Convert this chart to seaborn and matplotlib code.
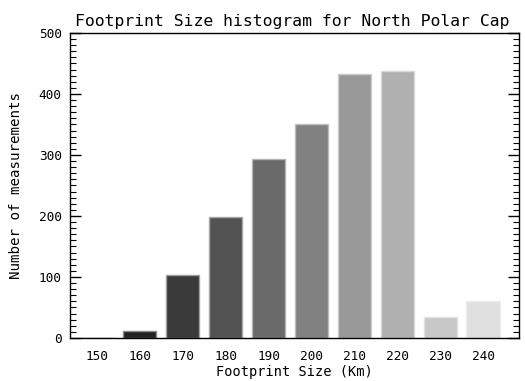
import matplotlib
matplotlib.use("Agg")
import matplotlib.pyplot as plt
from matplotlib.ticker import MultipleLocator
import seaborn as sns
import pandas as pd

# Histogram of footprint sizes over the North Polar Cap
sizes = [150, 160, 170, 180, 190, 200, 210, 220, 230, 240]
counts = [0, 12, 103, 199, 293, 350, 432, 437, 34, 60]
bar_colors = ["#141414", "#222222", "#3a3a3a", "#535353", "#6a6a6a",
              "#818181", "#999999", "#b0b0b0", "#c8c8c8", "#e0e0e0"]
edge_colors = ["#8a8a8a", "#8a8a8a", "#a0a0a0", "#a8a8a8", "#b4b4b4",
               "#c0c0c0", "#cccccc", "#d8d8d8", "#e2e2e2", "#ececec"]

df = pd.DataFrame({"size": sizes, "count": counts})

sns.set_style("white")
plt.rcParams["font.family"] = ["DejaVu Sans Mono"]
plt.rcParams["text.color"] = "black"
plt.rcParams["axes.labelcolor"] = "black"
plt.rcParams["xtick.color"] = "black"
plt.rcParams["ytick.color"] = "black"

fig = plt.figure(figsize=(5.25, 3.81), dpi=100)
ax = fig.add_axes([0.1333, 0.1129, 0.8553, 0.8005])

sns.barplot(data=df, x="size", y="count", hue="size", palette=bar_colors,
            native_scale=True, width=0.77, legend=False, ax=ax,
            linewidth=1.0, saturation=1)

for patch, ec in zip(ax.patches, edge_colors):
    patch.set_edgecolor(ec)

ax.set_xlim(143.7, 248.4)
ax.set_ylim(0, 500)
ax.set_xticks(sizes)
ax.set_xticklabels([str(s) for s in sizes])
ax.yaxis.set_major_locator(MultipleLocator(100))
ax.yaxis.set_minor_locator(MultipleLocator(10))

ax.tick_params(axis="x", direction="in", length=5, width=1,
               labelsize=9.2, pad=9, top=False)
ax.tick_params(axis="y", which="major", direction="in", length=8, width=1,
               labelsize=9.2, left=True, right=True, pad=6)
ax.tick_params(axis="y", which="minor", direction="in", length=4, width=0.8,
               left=True, right=True)

for side in ["left", "bottom", "top", "right"]:
    ax.spines[side].set_visible(True)
    ax.spines[side].set_color("black")
    ax.spines[side].set_linewidth(1.0)

ax.set_xlabel("Footprint Size (Km)", fontsize=9.8, labelpad=1)
ax.set_ylabel("Number of measurements", fontsize=10.2, labelpad=11)
ax.set_title("Footprint Size histogram for North Polar Cap", fontsize=11.8,
             pad=5, x=0.495)

fig.savefig("out.png", dpi=100)
